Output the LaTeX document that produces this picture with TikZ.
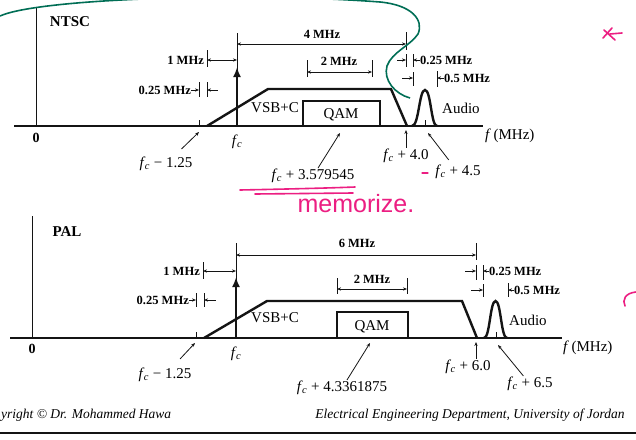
\documentclass[tikz,border=0pt]{standalone}
\usepackage{fontspec}
\setmainfont{Liberation Serif}
\setsansfont{Liberation Sans}
\usetikzlibrary{arrows.meta,calc}
\definecolor{ink}{RGB}{20,20,20}
\definecolor{pinkink}{RGB}{236,30,130}
\definecolor{greenink}{RGB}{0,110,85}
\newcommand{\fc}{\textit{f}\textsubscript{\kern-0.6pt\textit{c}}}

\begin{document}
\begin{tikzpicture}[x=1pt,y=-1pt,
  >={Stealth[length=4pt,width=3.2pt]},
  base/.style={ink,line width=1.2pt},
  yax/.style={ink,line width=0.9pt},
  spec/.style={ink,line width=2.4pt,line join=miter},
  qambox/.style={ink,line width=1.9pt},
  tickln/.style={ink,line width=0.8pt},
  dim/.style={<->,ink,line width=0.8pt},
  pin/.style={->,ink,line width=0.8pt},
  carrier/.style={-{Latex[length=10pt,width=8pt]},ink,line width=2.3pt},
  title/.style={font=\fontsize{15}{17}\selectfont\bfseries,inner sep=0pt},
  zero/.style={font=\fontsize{14}{16}\selectfont\bfseries,inner sep=0pt},
  lbl/.style={font=\fontsize{15}{17}\selectfont,inner sep=1pt},
  mhz/.style={font=\fontsize{12.5}{14}\selectfont\bfseries,inner sep=0pt},
  foot/.style={font=\fontsize{13.5}{15}\selectfont\itshape,inner sep=0pt},
  scrawl/.style={pinkink,line width=1.6pt,line cap=round,line join=round},
]
\useasboundingbox (0,0) rectangle (636,439);
\clip (0,0) rectangle (636,439);
\fill[white] (0,0) rectangle (636,439);

% ---- NTSC spectrum ----
\draw[base] (14,126) -- (483,126);
\draw[yax] (36,7) -- (36,126);
\node[title] (ntsc) at (70,22) {NTSC};
\node[zero] (nzero) at (36,138) {0};
\draw[tickln] (199,120) -- (199,126);
\draw[spec] (207,126) -- (268,89) -- (391,89) -- (407,126);
\draw[qambox] (303,126) |- (380,101) -- (380,126);
\draw[spec] (412,126) .. controls (419,126) and (419,90) .. (425,90) .. controls (431,90) and (431,126) .. (437,126);
\draw[tickln] (425,120) -- (425,126);
\draw[tickln] (237,33) -- (237,80);
\draw[carrier] (237,126) -- (237,67);
% dimensions
\draw[tickln] (406,32) -- (406,50);
\draw[dim] (237,44) -- (406,44);
\node[mhz] (n4m) at (322,34) {4 MHz};
\draw[tickln] (207,50) -- (207,67);
\draw[dim] (207,60) -- (237,60);
\node[mhz,anchor=east] (n1m) at (204,60) {1 MHz};
\node[mhz,anchor=east] (n025l) at (191,90) {0.25 MHz};
\draw[tickln] (199,82) -- (199,97);
\draw[tickln] (207,82) -- (207,97);
\draw[->,tickln] (n025l.east) -- (199,90);
\draw[<-,tickln] (207,90) -- (218,90);
\draw[tickln] (307,60) -- (307,77);
\draw[tickln] (372,60) -- (372,77);
\draw[dim] (307,72) -- (372,72);
\node[mhz] (n2m) at (339,61) {2 MHz};
\draw[->,tickln] (397,60) -- (406,60);
\draw[tickln] (406,54) -- (406,67);
\draw[tickln] (413,54) -- (413,67);
\node[mhz,anchor=west] (n025r) at (420,60) {0.25 MHz};
\draw[->,tickln] (n025r.west) -- (413,60);
\draw[->,tickln] (402,78) -- (413,78);
\draw[tickln] (413,72) -- (413,86);
\draw[tickln] (437,71) -- (437,87);
\node[mhz,anchor=west] (n05) at (444,78) {0.5 MHz};
\draw[->,tickln] (n05.west) -- (437,78);
% labels and pointers
\node[lbl] (nvsb) at (275,108) {VSB+C};
\node[lbl] (nqam) at (341,115) {QAM};
\node[lbl,anchor=west] (naud) at (441,108) {Audio};
\node[lbl,anchor=west] (nf) at (484,136) {\textit{f}\,(MHz)};
\node[lbl] (nfc) at (237,142) {\fc};
\node[lbl] (nlo) at (166,164) {\fc\ − 1.25};
\node[lbl] (nqf) at (313,176) {\fc\ + 3.579545};
\node[lbl] (nedge) at (406,156) {\fc\ + 4.0};
\node[lbl] (nsnd) at (458,172) {\fc\ + 4.5};
\coordinate (nloTip) at (199,132);
\coordinate (nqfTip) at (340,133);
\coordinate (nedgeTip) at (406,130);
\coordinate (nsndTip) at (428,133);
\draw[pin,shorten <=10pt] (nlo) -- (nloTip);
\draw[pin] (nqf) -- (nqfTip);
\draw[pin] (nedge) -- (nedgeTip);
\draw[pin,shorten <=5pt] (nsnd) -- (nsndTip);

% ---- PAL spectrum ----
\draw[base] (10,338) -- (562,338);
\draw[yax] (32,216) -- (32,338);
\node[title] (pal) at (67,232) {PAL};
\node[zero] (pzero) at (32,349) {0};
\draw[tickln] (196,332) -- (196,338);
\draw[spec] (204,338) -- (267,301) -- (462,301) -- (477,338);
\draw[qambox] (337,338) |- (408,312) -- (408,338);
\draw[spec] (484,338) .. controls (490,338) and (490,301) .. (495.5,301) .. controls (501,301) and (501,338) .. (507,338);
\draw[tickln] (496,332) -- (496,338);
\draw[tickln] (236,243) -- (236,290);
\draw[carrier] (236,338) -- (236,277);
% dimensions
\draw[tickln] (476,243) -- (476,260);
\draw[dim] (236,255) -- (476,255);
\node[mhz] (p6m) at (357,243) {6 MHz};
\draw[tickln] (203,262) -- (203,279);
\draw[dim] (203,271) -- (236,271);
\node[mhz,anchor=east] (p1m) at (200,271) {1 MHz};
\node[mhz,anchor=east] (p025l) at (189,300) {0.25 MHz};
\draw[tickln] (196,293) -- (196,307);
\draw[tickln] (204,293) -- (204,307);
\draw[->,tickln] (p025l.east) -- (196,300);
\draw[<-,tickln] (204,300) -- (216,300);
\draw[tickln] (337,278) -- (337,294);
\draw[tickln] (407,278) -- (407,294);
\draw[dim] (337,289) -- (407,289);
\node[mhz] (p2m) at (372,279) {2 MHz};
\draw[->,tickln] (465,271) -- (476,271);
\draw[tickln] (476,265) -- (476,280);
\draw[tickln] (483,265) -- (483,280);
\node[mhz,anchor=west] (p025r) at (489,271) {0.25 MHz};
\draw[->,tickln] (p025r.west) -- (483,271);
\draw[->,tickln] (471,290) -- (483,290);
\draw[tickln] (483,284) -- (483,297);
\draw[tickln] (508,283) -- (508,297);
\node[mhz,anchor=west] (p05) at (514,290) {0.5 MHz};
\draw[->,tickln] (p05.west) -- (508,290);
% labels and pointers
\node[lbl] (pvsb) at (275,318) {VSB+C};
\node[lbl] (pqam) at (372,327) {QAM};
\node[lbl,anchor=west] (paud) at (508,320) {Audio};
\node[lbl,anchor=west] (pf) at (562,348) {\textit{f}\,(MHz)};
\node[lbl] (pfc) at (236,354) {\fc};
\node[lbl] (plo) at (165,375) {\fc\ − 1.25};
\node[lbl] (pqf) at (342,388) {\fc\ + 4.3361875};
\node[lbl] (pedge) at (468,367) {\fc\ + 6.0};
\node[lbl] (psnd) at (530,384) {\fc\ + 6.5};
\coordinate (ploTip) at (195,343);
\coordinate (pqfTip) at (370,343);
\coordinate (pedgeTip) at (476,342);
\coordinate (psndTip) at (498,345);
\draw[pin,shorten <=11pt] (plo) -- (ploTip);
\draw[pin] (pqf) -- (pqfTip);
\draw[pin] (pedge.north -| pedgeTip) -- (pedgeTip);
\draw[pin] (psnd) -- (psndTip);

% ---- footer ----
\node[foot,anchor=west] (copy) at (1,415) {yright © Dr. Mohammed Hawa};
\node[foot] (dept) at (470,415) {Electrical Engineering Department, University of Jordan};
\draw[ink,line width=2.5pt] (0,433) -- (636,433);

% ---- hand annotations ----
\draw[greenink,line width=1.6pt] (0,16) .. controls (40,-2) and (250,-8) .. (380,2) .. controls (412,5) and (424,20) .. (418,34) .. controls (410,46) and (392,52) .. (387,66) .. controls (383,80) and (395,94) .. (410,98);
\draw[scrawl] (240,190) .. controls (290,189) and (330,188) .. (355,187);
\draw[scrawl] (255,194) -- (353,193);
\node[text=pinkink,font=\fontsize{25}{27}\selectfont\sffamily] (memo) at (356,204) {memorize.};
\draw[scrawl,line width=1.2pt] (422,173) -- (428,173);
\draw[scrawl] (603,38) -- (612,28) (604,30) -- (615,40) (610,34) -- (622,33);
\draw[scrawl] (636,292) .. controls (625,293) and (622,300) .. (625,306);
\end{tikzpicture}
\end{document}
